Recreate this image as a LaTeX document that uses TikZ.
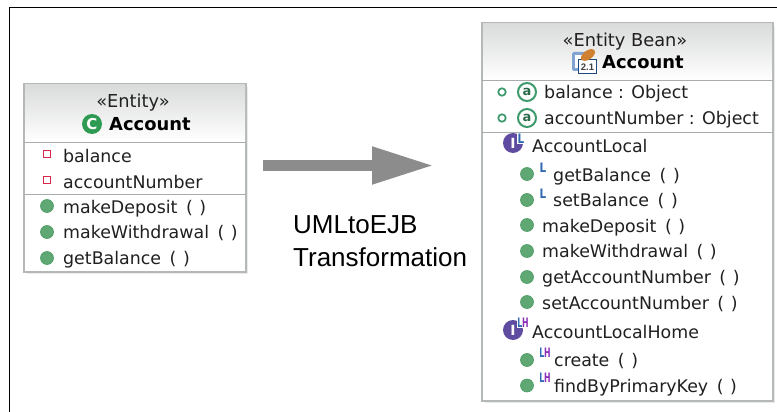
\documentclass[tikz,border=0pt]{standalone}
\usepackage{fontspec}
\usepackage{graphicx}
\setmainfont{DejaVu Sans}
\newfontfamily\helv{Liberation Sans}
\usetikzlibrary{arrows.meta}
\definecolor{edgegray}{HTML}{B4B8B6}
\definecolor{divgray}{HTML}{A8ACAA}
\definecolor{headtop}{HTML}{DADBDB}
\definecolor{opgreen}{HTML}{5FA873}
\definecolor{opedge}{HTML}{4C9A64}
\definecolor{privred}{HTML}{D8284A}
\definecolor{attrgreen}{HTML}{3C9A6C}
\definecolor{classgreen}{HTML}{2F9A52}
\definecolor{ifacepurple}{HTML}{5F4BA0}
\definecolor{tagpurple}{HTML}{8A2FB8}
\definecolor{arrowgray}{HTML}{8C8C8C}
\definecolor{textgray}{HTML}{202020}
\definecolor{tagblue}{HTML}{2F68B0}
\newcommand{\emptyargs}{\hspace{3pt} (\hspace{1pt} )}
\newcommand{\tagLtext}{\scalebox{.8}[1]{\textcolor{tagblue}{L}}}
\newcommand{\tagLHtext}{\scalebox{.6}[1]{\textcolor{tagblue}{L}\textcolor{tagpurple}{H}}}
\tikzset{
  x=1pt,y=-1pt,
  umlbox/.style={draw=edgegray,line width=1.6pt,fill=white},
  divider/.style={draw=divgray,line width=1pt},
  shadowbox/.style={fill=black!8},
  member/.style={anchor=west,inner sep=0pt,text height=13pt,text depth=0pt,text=textgray,font=\fontsize{17.4}{20}\selectfont},
  stereo/.style={inner sep=0pt,text height=13pt,text depth=0pt,text=textgray,font=\fontsize{17.8}{20}\selectfont},
  cname/.style={inner sep=0pt,text height=13pt,text depth=0pt,text=black,font=\fontsize{17.9}{20}\selectfont\bfseries},
  opdot/.style={circle,fill=opgreen,draw=opedge,line width=.6pt,minimum size=13pt,inner sep=0pt},
  privsq/.style={rectangle,draw=privred,fill=white,line width=1.8pt,minimum size=7pt,inner sep=0pt},
  pubring/.style={circle,draw=attrgreen,fill=white,line width=1.7pt,minimum size=7.5pt,inner sep=0pt},
  atbadge/.style={circle,draw=attrgreen,fill=white,line width=2pt,minimum size=18pt,inner sep=0pt,text=attrgreen!70!black,font=\fontsize{13}{13}\selectfont\bfseries},
  ifacebadge/.style={circle,fill=ifacepurple,minimum size=20pt,inner sep=0pt,text=white,font=\fontsize{14}{14}\selectfont\bfseries},
  classbadge/.style={circle,fill=classgreen,minimum size=20pt,inner sep=0pt,text=white,font=\fontsize{15}{15}\selectfont\bfseries},
  tagmark/.style={inner sep=0pt,font=\fontsize{13}{13}\selectfont\bfseries},
  ifacetag/.style={tagmark,fill=white,inner sep=.6pt},
  caption/.style={anchor=west,inner sep=0pt,font=\helv\fontsize{26}{32}\selectfont},
  flowarrow/.style={draw=arrowgray,line width=11pt,-{Triangle[length=62pt,width=35pt,fill=arrowgray]}},
}
\begin{document}
\begin{tikzpicture}
\useasboundingbox (0,0) rectangle (777,412);
% frame
\draw[black,line width=1.2pt] (9.5,412) -- (9.5,7.5) -- (777,7.5);
% left class
\fill[shadowbox] (27,87) rectangle (248,274);
\draw[umlbox] (24,84) rectangle (246,272);
\shade[top color=headtop,bottom color=white] (25,85) rectangle (245,141);
\draw[divider] (24,142) -- (246,142);
\draw[divider] (24,194) -- (246,194);
\node[stereo] (lstereo) at (133,100.5) {«Entity»};
\node[cname,anchor=west] (lname) at (109,123.5) {Account};
\node[classbadge] (lbadge) at (92,124) {C};
\node[privsq] (la1) at (47,154) {};
\node[member] (lat1) at (63,155.5) {balance};
\node[privsq] (la2) at (47,180) {};
\node[member] (lat2) at (63,181.5) {accountNumber};
\node[opdot] (lo1) at (47,206) {};
\node[member] (lot1) at (63,206.5) {makeDeposit\emptyargs};
\node[opdot] (lo2) at (47,232) {};
\node[member] (lot2) at (63,232) {makeWithdrawal\emptyargs};
\node[opdot] (lo3) at (47,258) {};
\node[member] (lot3) at (63,258) {getBalance\emptyargs};
% arrow and caption
\coordinate (arrowstart) at (263,165.5);
\coordinate (arrowend) at (434,165.5);
\draw[flowarrow] (arrowstart) -- (arrowend);
\node[caption] (cap1) at (293,225) {UMLtoEJB};
\node[caption] (cap2) at (293,257) {Transformation};
% right class
\fill[shadowbox] (485,26) rectangle (775,403);
\draw[umlbox] (482,23) rectangle (773,401);
\shade[top color=headtop,bottom color=white] (483,24) rectangle (772,80);
\draw[divider] (482,81) -- (773,81);
\draw[divider] (482,132) -- (773,132);
\node[stereo] (rstereo) at (625,40) {«Entity Bean»};
\node[cname,anchor=west] (rname) at (602,62.5) {Account};
% bean icon
\fill[tagblue!60,rounded corners=1.5pt] (572,52) rectangle (588,71);
\fill[white] (575,55) rectangle (590,68);
\node[draw=tagblue!70!black,fill=white,line width=1pt,minimum width=18pt,minimum height=14pt,inner sep=0pt,font=\helv\fontsize{9.5}{9.5}\selectfont\bfseries,text=black!75] (beanicon) at (587.5,67) {2.1};
\fill[brown!75!orange,rotate around={35:(588,55)}] (588,55) ellipse (8pt and 4.5pt);
\node[pubring] (ra1) at (502,92) {};
\node[atbadge] (rb1) at (527,92) {a};
\node[member] (rat1) at (544,92) {balance : Object};
\node[pubring] (ra2) at (502,118) {};
\node[atbadge] (rb2) at (527,118) {a};
\node[member] (rat2) at (544,118) {accountNumber : Object};
% AccountLocal
\node[ifacebadge] (il) at (513,143) {I};
\node[ifacetag] (ilt) at (521,138.5) {\tagLtext};
\node[member] (iltext) at (532,145.5) {AccountLocal};
\node[opdot] (ro1) at (527,174) {};
\node[tagmark] (rt1) at (543,168) {\tagLtext};
\node[member] (rot1) at (553,174.5) {getBalance\emptyargs};
\node[opdot] (ro2) at (527,200) {};
\node[tagmark] (rt2) at (543,194) {\tagLtext};
\node[member] (rot2) at (553,200) {setBalance\emptyargs};
\node[opdot] (ro3) at (527,225) {};
\node[member] (rot3) at (542,225.5) {makeDeposit\emptyargs};
\node[opdot] (ro4) at (527,251) {};
\node[member] (rot4) at (542,251) {makeWithdrawal\emptyargs};
\node[opdot] (ro5) at (527,277) {};
\node[member] (rot5) at (542,277) {getAccountNumber\emptyargs};
\node[opdot] (ro6) at (527,302) {};
\node[member] (rot6) at (542,302.5) {setAccountNumber\emptyargs};
% AccountLocalHome
\node[ifacebadge] (ih) at (513,330) {I};
\node[ifacetag] (iht) at (523,323) {\tagLHtext};
\node[member] (ihtext) at (532,331.5) {AccountLocalHome};
\node[opdot] (ro7) at (527,360) {};
\node[tagmark] (rt7) at (545,353) {\tagLHtext};
\node[member] (rot7) at (554,360) {create\emptyargs};
\node[opdot] (ro8) at (527,385.5) {};
\node[tagmark] (rt8) at (545,378) {\tagLHtext};
\node[member] (rot8) at (554,386) {findByPrimaryKey\emptyargs};
\end{tikzpicture}
\end{document}
